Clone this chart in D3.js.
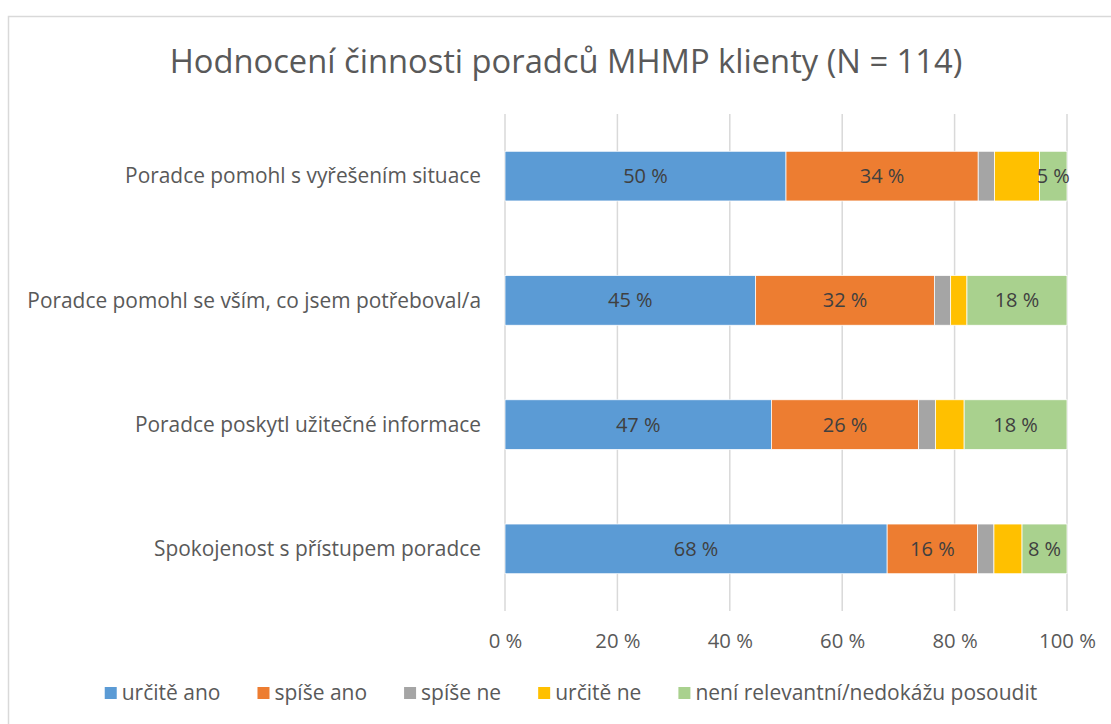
<!DOCTYPE html>
<html>
<head>
<meta charset="utf-8">
<script src="https://cdn.jsdelivr.net/npm/d3@7"></script>
<style>
  body { margin: 0; background: #fff; }
  svg text { font-family: "Open Sans", Lato, sans-serif; }
</style>
</head>
<body>
<div id="chart"></div>
<script>
const categories = [
  "Poradce pomohl s vyřešením situace",
  "Poradce pomohl se vším, co jsem potřeboval/a",
  "Poradce poskytl užitečné informace",
  "Spokojenost s přístupem poradce "
];
const seriesNames = ["určitě ano", "spíše ano", "spíše ne", "určitě ne", "není relevantní/nedokážu posoudit"];
const seriesColors = ["#5b9bd5", "#ed7d31", "#a5a5a5", "#ffc000", "#a9d18e"];
// percentages per category, in series order
const urciteAno = [50.0, 44.6, 47.4, 68.0];
const spiseAno = [34.2, 31.8, 26.2, 16.1];
const spiseNe = [2.9, 2.9, 3.0, 2.9];
const urciteNe = [8.0, 2.9, 5.1, 5.0];
const neniRelevantni = [4.9, 17.8, 18.3, 8.0];
const showLabel = [true, true, false, false, true];
const xTicks = [0, 20, 40, 60, 80, 100];

const W = 1111, H = 724;
const svg = d3.select("#chart").append("svg").attr("width", W).attr("height", H);

svg.append("rect").attr("x", 8.5).attr("y", 16.5).attr("width", 1110).attr("height", 720)
  .attr("fill", "#fff").attr("stroke", "#d9d9d9").attr("stroke-width", 1.5);

svg.append("text").attr("x", 566).attr("y", 73).attr("text-anchor", "middle")
  .attr("font-size", 32.7).attr("fill", "#595959")
  .text("Hodnocení činnosti poradců MHMP klienty (N = 114)");

const plotLeft = 505, plotRight = 1067, plotTop = 114, plotBottom = 611;
const x = d3.scaleLinear().domain([0, 100]).range([plotLeft, plotRight]);
const y = d3.scaleBand().domain(categories).range([plotTop, plotBottom]).paddingInner(0.6).paddingOuter(0.3);

const series = [urciteAno, spiseAno, spiseNe, urciteNe, neniRelevantni];
const rows = categories.map((c, i) => {
  const r = { cat: c };
  seriesNames.forEach((s, j) => r[s] = series[j][i]);
  return r;
});
const stacked = d3.stack().keys(seriesNames)(rows);

// gridlines
svg.append("g").selectAll("line").data(xTicks).enter().append("line")
  .attr("x1", d => x(d)).attr("x2", d => x(d))
  .attr("y1", plotTop).attr("y2", plotBottom)
  .attr("stroke", "#d9d9d9").attr("stroke-width", 1.5);

const layers = svg.append("g").selectAll("g").data(stacked).enter().append("g")
  .attr("fill", (d, i) => seriesColors[i]);

layers.selectAll("rect").data(d => d).enter().append("rect")
  .attr("x", d => x(d[0]))
  .attr("y", d => y(d.data.cat))
  .attr("width", d => x(d[1]) - x(d[0]))
  .attr("height", y.bandwidth())
  .attr("stroke", "#fff").attr("stroke-width", 0.75);

layers.each(function(s, i) {
  if (!showLabel[i]) return;
  d3.select(this).selectAll("text").data(s).enter().append("text")
    .attr("x", d => (x(d[0]) + x(d[1])) / 2)
    .attr("y", d => y(d.data.cat) + y.bandwidth() / 2)
    .attr("dy", "0.35em")
    .attr("text-anchor", "middle")
    .attr("font-size", 20).attr("fill", "#404040")
    .text(d => Math.round(d[1] - d[0]) + " %");
});

// category labels
svg.append("g").selectAll("text").data(categories).enter().append("text")
  .attr("x", 481).attr("y", d => y(d) + y.bandwidth() / 2).attr("dy", "0.35em")
  .attr("text-anchor", "end").attr("font-size", 20.9).attr("fill", "#595959")
  .text(d => d);

// x axis
const xAxis = svg.append("g").attr("transform", `translate(0,${plotBottom})`)
  .call(d3.axisBottom(x).tickValues(xTicks).tickSize(0).tickPadding(23).tickFormat(d => d + " %"));
xAxis.select(".domain").remove();
xAxis.selectAll("text").attr("font-size", 20.3).attr("fill", "#595959").style("font-family", "'Open Sans', sans-serif");

// legend
const legend = svg.append("g").attr("transform", "translate(0,693)");
const items = legend.selectAll("g").data(seriesNames).enter().append("g");
items.append("rect").attr("width", 12).attr("height", 12).attr("y", -6)
  .attr("fill", (d, i) => seriesColors[i]);
items.append("text").attr("x", 17).attr("dy", "0.35em")
  .attr("font-size", 21).attr("fill", "#595959").text(d => d);
let pos = 0;
const offsets = [];
items.each(function() {
  offsets.push(pos);
  pos += 17 + this.querySelector("text").getComputedTextLength() + 37;
});
const total = pos - 37;
const start = 571 - total / 2;
items.attr("transform", (d, i) => `translate(${start + offsets[i]},0)`);
</script>
</body>
</html>
